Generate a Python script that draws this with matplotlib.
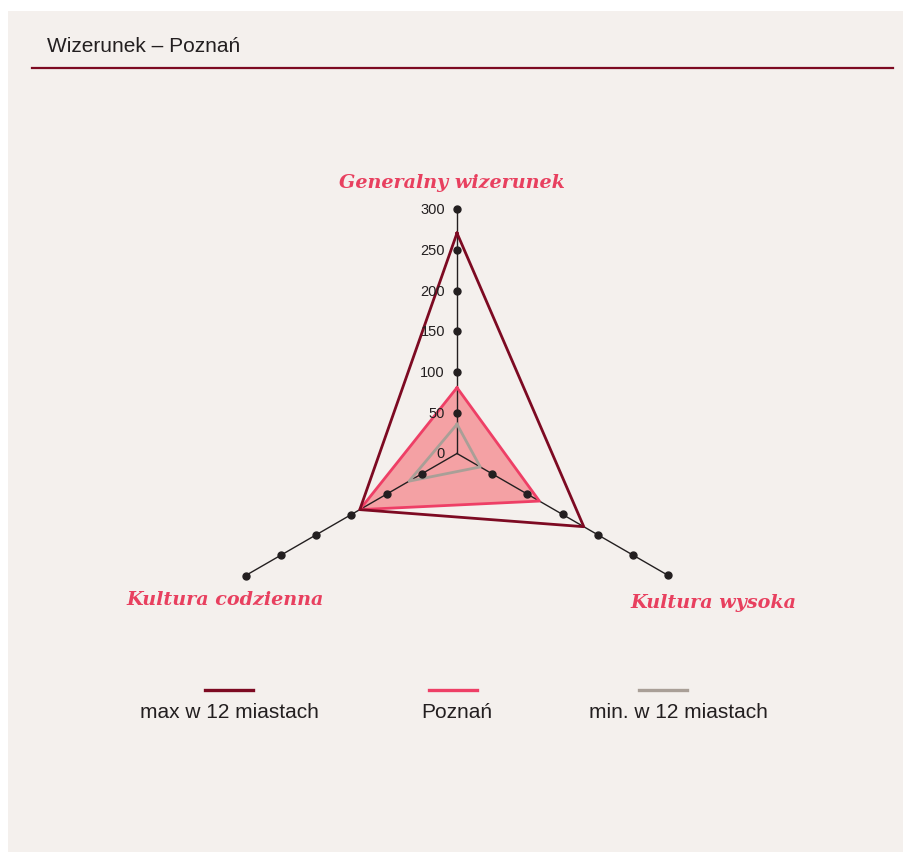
import numpy as np
import matplotlib
matplotlib.use("Agg")
import matplotlib.pyplot as plt
from matplotlib.lines import Line2D
from matplotlib.patches import Rectangle

# data
categories = ["Generalny wizerunek", "Kultura wysoka", "Kultura codzienna"]
max_vals = [271, 180, 138]
poznan_vals = [81, 117, 138]
min_vals = [36, 33, 68]
ticks = [50, 100, 150, 200, 250, 300]
tick_labels = ["50", "100", "150", "200", "250", "300"]
series_names = ["max w 12 miastach", "Poznań", "min. w 12 miastach"]

bg = "#f4f0ed"
c_max = "#7d0a22"
c_poz = "#ee3f66"
c_fill = "#f4a1a4"
c_min = "#a99f97"
c_lab = "#e8405f"
c_axis = "#231f20"

W, H = 904, 852
fig = plt.figure(figsize=(W / 100, H / 100), dpi=100, facecolor="white")
fig.add_artist(Rectangle((8 / W, 0), 1 - 8 / W, 1 - 11 / H, transform=fig.transFigure,
                         facecolor=bg, edgecolor="none", zorder=0))

# header
fig.text(47 / W, 1 - 47 / H, "Wizerunek – Poznań", fontsize=15, color="#231f20",
         family="Liberation Sans", va="center", ha="left")
fig.add_artist(Line2D([32 / W, 893 / W], [1 - 68 / H, 1 - 68 / H], transform=fig.transFigure,
                      color=c_max, lw=1.6))

# radar in polar axes, centre (457, 453.5), radius 244 px for 300
cx, cy, R = 457, 453.5, 244
ax = fig.add_axes([(cx - R) / W, 1 - (cy + R) / H, 2 * R / W, 2 * R / H], projection="polar")
ax.set_theta_offset(np.pi / 2)
ax.set_theta_direction(-1)
ax.set_ylim(0, 300)
ax.set_facecolor("none")
ax.grid(False)
ax.spines["polar"].set_visible(False)
ax.set_xticks([])
ax.set_yticks([])

angles = np.deg2rad([0, 120, 240])

for a in angles:
    ax.plot([a, a], [0, 300], color=c_axis, lw=1, zorder=2, clip_on=False)
    ax.plot([a] * len(ticks), ticks, "o", color=c_axis, ms=5, zorder=6, clip_on=False)

for t, lab in zip(ticks + [0], tick_labels + ["0"]):
    ax.annotate(lab, (0, t), xytext=(-12, -1), textcoords="offset pixels",
                ha="right", va="center", fontsize=10.5, color="#231f20",
                family="Liberation Sans", zorder=7)

ang_c = np.append(angles, angles[0])


def closed(v):
    return np.append(v, v[0])


ax.fill(ang_c, closed(poznan_vals), color=c_fill, zorder=1, lw=0)
ax.plot(ang_c, closed(min_vals), color=c_min, lw=2, zorder=3)
ax.plot(ang_c, closed(poznan_vals), color=c_poz, lw=2, zorder=4)
ax.plot(ang_c, closed(max_vals), color=c_max, lw=2, zorder=5)

# category labels
lab_pos = [(451.5, 183), (713.5, 603), (225.5, 600)]
for name, (x, y) in zip(categories, lab_pos):
    fig.text(x / W, 1 - y / H, name, fontsize=13.8, color=c_lab, family="DejaVu Serif",
             style="italic", weight="bold", ha="center", va="center")

# legend
leg_x = [229, 453, 663]
leg_txt_x = [229, 456.5, 678]
for name, col, x, tx in zip(series_names, [c_max, c_poz, c_min], leg_x, leg_txt_x):
    fig.add_artist(Line2D([(x - 24) / W, (x + 24) / W], [1 - 690 / H] * 2,
                          transform=fig.transFigure, color=col, lw=2.4))
    fig.text(tx / W, 1 - 713 / H, name, fontsize=15, color="#231f20",
             family="Liberation Sans", ha="center", va="center")

fig.savefig("out.png", dpi=100, facecolor="white")
